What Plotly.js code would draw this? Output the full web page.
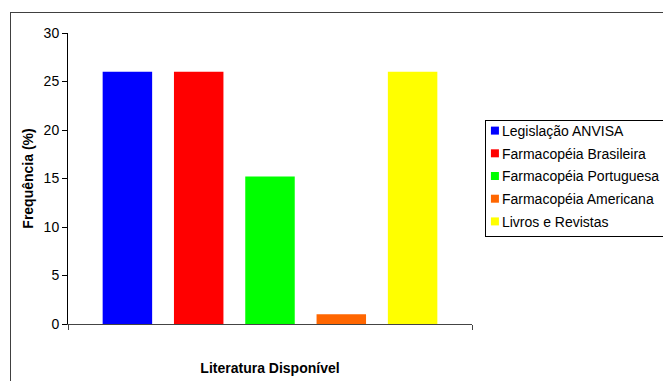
<!DOCTYPE html>
<html>
<head>
<meta charset="utf-8">
<script src="https://cdn.plot.ly/plotly-3.0.1.min.js"></script>
<style>
  html, body { margin: 0; padding: 0; background: #fff; overflow: hidden; }
  #chart { width: 663px; height: 381px; position: relative; }
  #frame {
    position: absolute; left: 10px; top: 12px; width: 700px; height: 400px;
    border: 1px solid #404040; pointer-events: none; box-sizing: border-box;
  }
</style>
</head>
<body>
<div id="chart"></div>
<div id="frame"></div>
<script>
// Fontes de literatura consultadas e respectiva frequência (%)
const categoria = ['Literatura'];
const series = ['Legislação ANVISA', 'Farmacopéia Brasileira', 'Farmacopéia Portuguesa', 'Farmacopéia Americana', 'Livros e Revistas'];
const frequencias = [26, 26, 15.2, 1, 26];
const cores = ['#0000FF', '#FF0000', '#00FF00', '#FF6600', '#FFFF00'];
const yTicks = [0, 5, 10, 15, 20, 25, 30];

const traces = series.map((nome, i) => ({
  type: 'bar',
  name: nome,
  x: categoria,
  y: [frequencias[i]],
  legendgroup: 'g' + i,
  marker: { color: cores[i], line: { width: 0 } },
  hoverinfo: 'name+y'
}));

const font = 'Liberation Sans, Arial, sans-serif';

const layout = {
  width: 663,
  height: 381,
  margin: { l: 68, r: 191, t: 33, b: 57, autoexpand: false },
  paper_bgcolor: '#fff',
  plot_bgcolor: '#fff',
  font: { family: font, size: 14, color: '#000' },
  barmode: 'group',
  bargap: 0.1176,
  bargroupgap: 0.306,
  showlegend: true,
  legend: {
    x: 1.032, y: 0.701, xanchor: 'left', yanchor: 'top',
    bgcolor: '#fff', bordercolor: '#000', borderwidth: 1,
    font: { family: font, size: 14, color: '#000' },
    tracegroupgap: 1.5,
    itemwidth: 30
  },
  xaxis: {
    type: 'category',
    showticklabels: false,
    tickson: 'boundaries',
    ticks: 'outside', ticklen: 5, tickcolor: '#444',
    showline: true, linecolor: '#444', linewidth: 1,
    showgrid: false, zeroline: false,
    title: { text: '<b>Literatura Disponível</b>', font: { family: font, size: 14 }, standoff: 39 },
    automargin: false
  },
  yaxis: {
    range: [0, 30],
    tickvals: yTicks,
    ticks: 'outside', ticklen: 5, tickcolor: '#000',
    showline: true, linecolor: '#000', linewidth: 1,
    showgrid: false, zeroline: false,
    tickfont: { family: font, size: 14 },
    title: { text: '<b>Frequência (%)</b>', font: { family: font, size: 14 }, standoff: 6 },
    automargin: false
  }
};

// Compact legend: small square swatches close to the labels, tighter padding
function compactLegend(gd) {
  const lift = 6;
  gd.querySelectorAll('.legend .traces').forEach(tr => {
    tr.querySelectorAll('.legendpoints path').forEach(p => {
      p.setAttribute('d', 'M4,4H-4V-4H4Z');
      p.setAttribute('transform', 'translate(9,0)');
    });
    const t = tr.querySelector('.legendtext');
    if (t) t.setAttribute('x', 16);
    const m = /translate\(\s*([-\d.]+)[ ,]+([-\d.]+)\s*\)/.exec(tr.getAttribute('transform') || '');
    if (m) tr.setAttribute('transform', 'translate(' + m[1] + ',' + (parseFloat(m[2]) - lift) + ')');
  });
  const bg = gd.querySelector('.legend rect.bg');
  if (bg) bg.setAttribute('height', parseFloat(bg.getAttribute('height')) - 7);
}

Plotly.newPlot('chart', traces, layout, { displayModeBar: false, staticPlot: true })
  .then(compactLegend);
</script>
</body>
</html>
